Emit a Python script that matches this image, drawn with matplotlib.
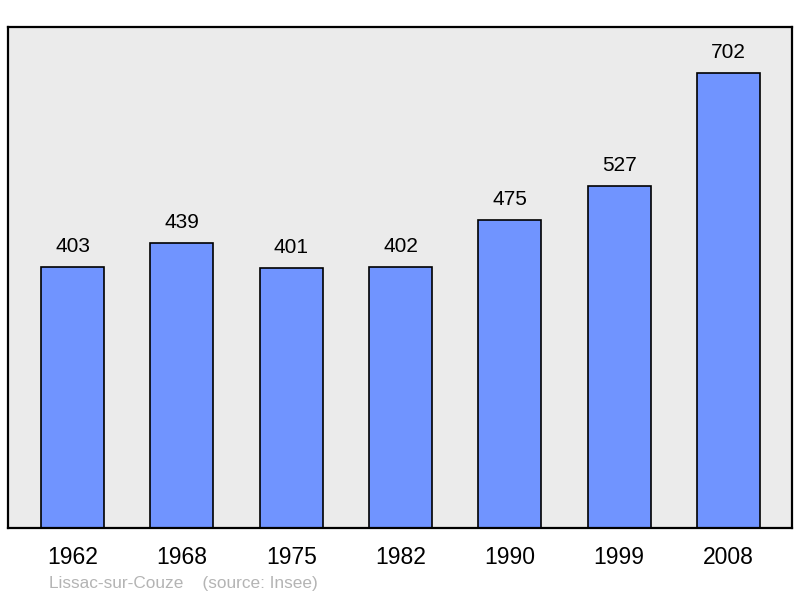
import matplotlib
matplotlib.use("Agg")
import matplotlib.pyplot as plt

years = ["1962", "1968", "1975", "1982", "1990", "1999", "2008"]
population = [403, 439, 401, 402, 475, 527, 702]

plt.rcParams["font.family"] = ["Liberation Sans", "DejaVu Sans"]

fig = plt.figure(figsize=(8, 5.98), dpi=100)
ax = fig.add_axes([0.01, 0.117, 0.98, 0.838])
ax.set_facecolor("#ebebeb")

xs = list(range(len(years)))
ax.bar(xs, population, width=0.576, color="#7094ff", edgecolor="black",
       linewidth=1.2, zorder=2)

for x, v in zip(xs, population):
    ax.annotate(str(v), (x, v), xytext=(0, 8), textcoords="offset points",
                ha="center", va="bottom", fontsize=15)

ax.set_xlim(-0.59, 6.58)
ax.set_ylim(0, 773)
ax.set_yticks([])
ax.set_xticks(xs)
ax.set_xticklabels(years, fontsize=16.5)
ax.tick_params(axis="x", length=0, pad=13)
for s in ax.spines.values():
    s.set_linewidth(1.6)
    s.set_color("black")

fig.text(0.061, 0.012, "Lissac-sur-Couze    (source: Insee)",
         fontsize=12.4, color="#b4b4b4", ha="left", va="bottom")

fig.savefig("out.png", dpi=100)
